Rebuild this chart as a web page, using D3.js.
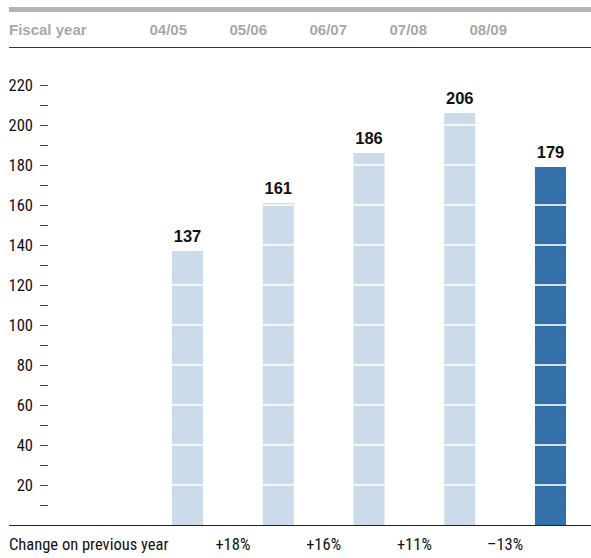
<!DOCTYPE html>
<html>
<head>
<meta charset="utf-8">
<script src="https://cdn.jsdelivr.net/npm/d3@7"></script>
<style>
  html, body { margin: 0; padding: 0; background: #fff; }
  svg { display: block; }
</style>
</head>
<body>
<svg id="chart" width="591" height="558"></svg>
<script>
// Fiscal years and values (bar heights)
const years = ["04/05", "05/06", "06/07", "07/08", "08/09"];
const values = [137, 161, 186, 206, 179];
// Year-on-year change, shown between consecutive bars
const changes = ["+18%", "+16%", "+11%", "\u201313%"];
// Axis ticks
const majorTicks = [20, 40, 60, 80, 100, 120, 140, 160, 180, 200, 220];
const minorTicks = [10, 30, 50, 70, 90, 110, 130, 150, 170, 190, 210];
const highlightYear = "08/09";

const svg = d3.select("#chart");
const W = 591;
const narrow = "'Roboto Condensed', 'DejaVu Sans Condensed', sans-serif";
const sans = "'Liberation Sans', Arial, Helvetica, sans-serif";

const y = d3.scaleLinear().domain([0, 220]).range([525, 85]);
const x = d3.scaleBand().domain(years).range([172, 566]).paddingInner(0.658).paddingOuter(0);
const head = d3.scalePoint().domain(years).range([187, 507]);

// Header band
svg.append("rect").attr("x", 9).attr("y", 7).attr("width", W - 9).attr("height", 5).attr("fill", "#b4b4b4");
svg.append("text").attr("x", 9).attr("y", 35).text("Fiscal year")
  .attr("font-family", sans).attr("font-weight", "bold").attr("font-size", 15).attr("fill", "#a8a8a8");
svg.append("g").selectAll("text").data(years).join("text")
  .attr("x", d => head(d)).attr("y", 35).attr("text-anchor", "end").text(d => d)
  .attr("font-family", sans).attr("font-weight", "bold").attr("font-size", 15).attr("fill", "#a8a8a8");
svg.append("line").attr("x1", 9).attr("x2", W).attr("y1", 47.5).attr("y2", 47.5)
  .attr("stroke", "#333").attr("stroke-width", 1.2);

// Y axis: dash ticks with labels
const axis = svg.append("g");
axis.selectAll("line.tick").data(majorTicks.concat(minorTicks)).join("line")
  .attr("class", "tick")
  .attr("x1", 40).attr("x2", 48)
  .attr("y1", d => Math.round(y(d)) + 0.5).attr("y2", d => Math.round(y(d)) + 0.5)
  .attr("stroke", "#444").attr("stroke-width", 1);
axis.selectAll("text").data(majorTicks).join("text")
  .attr("x", 33).attr("y", d => y(d) + 6).attr("text-anchor", "end")
  .text(d => d)
  .attr("font-family", narrow).attr("font-size", 16.5).attr("fill", "#111");

// Bars
const bars = svg.append("g");
bars.selectAll("rect").data(years).join("rect")
  .attr("x", d => x(d)).attr("width", x.bandwidth())
  .attr("y", (d, i) => y(values[i])).attr("height", (d, i) => y(0) - y(values[i]))
  .attr("fill", d => d === highlightYear ? "#336fa8" : "#cbdbea");

// White grid lines across each bar every 20 units
years.forEach((yr, i) => {
  bars.selectAll(null).data(majorTicks.filter(t => t < values[i])).join("line")
    .attr("x1", x(yr)).attr("x2", x(yr) + x.bandwidth())
    .attr("y1", t => y(t)).attr("y2", t => y(t))
    .attr("stroke", "#fff").attr("stroke-width", 1.6);
});

// Value labels
svg.append("g").selectAll("text").data(years).join("text")
  .attr("x", d => x(d) + x.bandwidth() / 2).attr("y", (d, i) => y(values[i]) - 9)
  .attr("text-anchor", "middle").text((d, i) => values[i])
  .attr("font-family", sans).attr("font-weight", "bold").attr("font-size", 16.5).attr("fill", "#111");

// Baseline
svg.append("line").attr("x1", 9).attr("x2", W).attr("y1", y(0) + 0.5).attr("y2", y(0) + 0.5)
  .attr("stroke", "#222").attr("stroke-width", 1.2);

// Change row
svg.append("text").attr("x", 9).attr("y", 550).text("Change on previous year")
  .attr("font-family", narrow).attr("font-size", 16.5).attr("fill", "#111");
svg.append("g").selectAll("text").data(changes).join("text")
  .attr("x", (d, i) => (x(years[i]) + x(years[i + 1])) / 2 + x.bandwidth() / 2)
  .attr("y", 550).attr("text-anchor", "middle").text(d => d)
  .attr("font-family", narrow).attr("font-size", 16.5).attr("fill", "#111");
</script>
</body>
</html>
